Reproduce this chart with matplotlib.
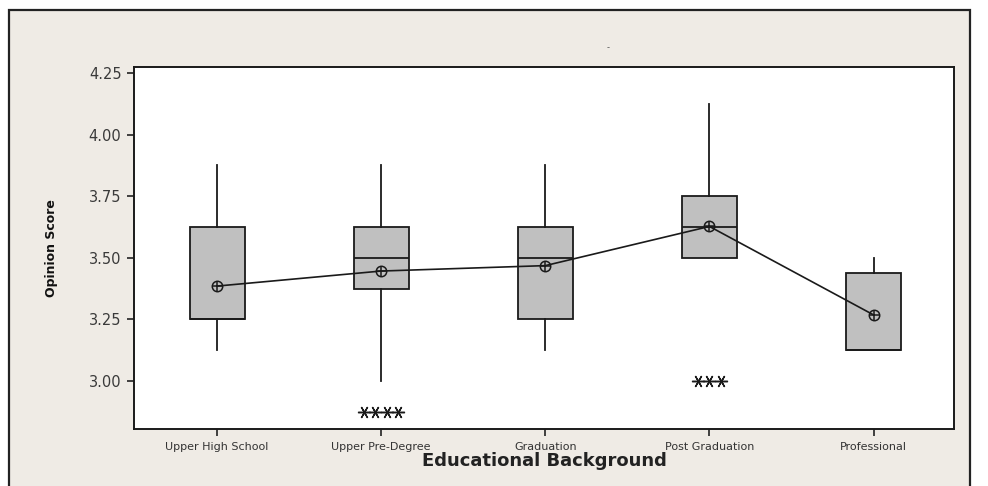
import matplotlib
matplotlib.use("Agg")
import matplotlib.pyplot as plt
from matplotlib.patches import Rectangle

# Opinion score by educational background
categories = ["Upper High School", "Upper Pre-Degree", "Graduation",
              "Post Graduation", "Professional"]
q1 = [3.25, 3.375, 3.25, 3.5, 3.125]
median = [3.25, 3.5, 3.5, 3.625, 3.125]
q3 = [3.625, 3.625, 3.625, 3.75, 3.4375]
whisker_low = [3.125, 3.0, 3.125, 3.5, 3.125]
whisker_high = [3.875, 3.875, 3.875, 4.125, 3.5]
means = [3.385, 3.446, 3.468, 3.627, 3.268]
outlier_value = [None, 2.875, None, 3.0, None]
outlier_count = [0, 4, 0, 3, 0]

yticks = [3.00, 3.25, 3.50, 3.75, 4.00, 4.25]

BG = "#efebe5"
BOX = "#c0c0c0"

fig = plt.figure(figsize=(9.88, 4.86), dpi=100)
fig.patch.set_facecolor("white")

# beige panel with dark frame, behind the axes
fig.patches.append(Rectangle((9 / 988, -0.05), (970 - 9) / 988, 1 - 9.5 / 486 + 0.05,
                             transform=fig.transFigure, facecolor=BG,
                             edgecolor="#222222", linewidth=1.6, zorder=-10))

ax = fig.add_axes([134 / 988, 1 - 429 / 486, (954 - 134) / 988, (429 - 67) / 486])
ax.set_zorder(1)
ax.set_facecolor("white")

stats = []
for i in range(len(categories)):
    stats.append(dict(q1=q1[i], med=median[i], q3=q3[i],
                      whislo=whisker_low[i], whishi=whisker_high[i], fliers=[]))

pos = list(range(len(categories)))
ax.bxp(stats, positions=pos, widths=0.335, patch_artist=True,
       showcaps=False, showfliers=False,
       boxprops=dict(facecolor=BOX, edgecolor="#1a1a1a", linewidth=1.3),
       medianprops=dict(color="#1a1a1a", linewidth=1.3),
       whiskerprops=dict(color="#1a1a1a", linewidth=1.3))

# connected mean symbols
ax.plot(pos, means, color="#1a1a1a", linewidth=1.2, zorder=4)
ax.plot(pos, means, linestyle="none", marker="o", markersize=7.5,
        markerfacecolor="none", markeredgecolor="#1a1a1a", markeredgewidth=1.1, zorder=5)
ax.plot(pos, means, linestyle="none", marker="+", markersize=7.5,
        color="#1a1a1a", markeredgewidth=1.1, zorder=5)

# outliers drawn side by side as asterisks
step = 0.07
for i, (v, n) in enumerate(zip(outlier_value, outlier_count)):
    if n:
        xs = [i + (k - (n - 1) / 2) * step for k in range(n)]
        ax.plot(xs, [v] * n, linestyle="none", marker=(6, 2, 90), markersize=9,
                color="#1a1a1a", markeredgewidth=1.0)
        ax.plot([xs[0] - step / 2, xs[-1] + step / 2], [v, v], color="#1a1a1a",
                linewidth=0.9)

ax.set_xlim(-0.506, 4.49)
ax.set_ylim(2.805, 4.274)
ax.set_yticks(yticks)
ax.set_yticklabels([f"{t:.2f}" for t in yticks], fontsize=10.5, color="#3a3a3a")
ax.set_xticks(pos)
ax.set_xticklabels(categories, fontsize=8, color="#333333")
ax.tick_params(direction="out", length=5, width=1.2, color="#222222", pad=4)
for s in ax.spines.values():
    s.set_linewidth(1.4)
    s.set_color("#1a1a1a")

ax.set_xlabel("Educational Background", fontsize=13, fontweight="bold",
              color="#222222", labelpad=0)
ax.set_ylabel("Opinion Score", fontsize=9, fontweight="bold", color="#111111",
              labelpad=22)

fig.text(608 / 988, 1 - 48 / 486, "-", fontsize=6, color="#555555",
         ha="center", va="center")

fig.savefig("out.png", dpi=100, facecolor=fig.get_facecolor())
